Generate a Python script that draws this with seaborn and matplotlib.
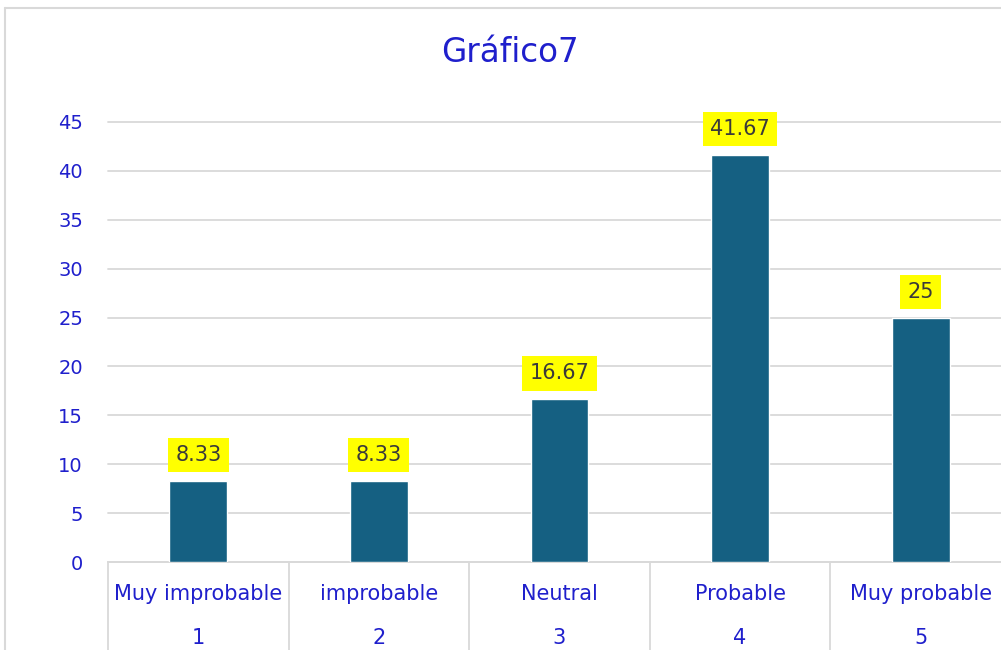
import matplotlib
matplotlib.use("Agg")
import matplotlib.pyplot as plt
from matplotlib.lines import Line2D
import matplotlib.transforms as mtransforms
import seaborn as sns
import pandas as pd

categories = ["Muy improbable", "improbable", "Neutral", "Probable", "Muy probable"]
codes = ["1", "2", "3", "4", "5"]
values = [8.33, 8.33, 16.67, 41.67, 25]
labels = ["8.33", "8.33", "16.67", "41.67", "25"]
yticks = [0, 5, 10, 15, 20, 25, 30, 35, 40, 45]
title = "Gráfico7"

BLUE = "#1f1fcc"
BAR = "#156082"
GRID = "#d9d9d9"

sns.set_theme(style="white")
plt.rcParams["font.family"] = ["DejaVu Sans"]

df = pd.DataFrame({"cat": categories, "val": values})

fig = plt.figure(figsize=(10.01, 6.5), dpi=100)
ax = fig.add_axes([108 / 1001, 88 / 650, 903 / 1001, 440 / 650])

sns.barplot(data=df, x="cat", y="val", color=BAR, saturation=1, width=0.32, ax=ax, zorder=3)

ax.set_xlim(-0.5, 4.5)
ax.set_ylim(0, 45)
ax.set_yticks(yticks)
ax.set_yticklabels([str(t) for t in yticks], color=BLUE, fontsize=14)
ax.tick_params(axis="y", length=0, pad=18)
ax.set_xticks(range(len(categories)))
ax.set_xticklabels([])
ax.tick_params(axis="x", length=0)
ax.set_xlabel("")
ax.set_ylabel("")
ax.grid(axis="y", color=GRID, linewidth=1.3, zorder=0)
for gl in ax.get_ygridlines():
    gl.set_clip_on(False)
ax.set_axisbelow(True)
for s in ["top", "right", "left"]:
    ax.spines[s].set_visible(False)
ax.spines["bottom"].set_color(GRID)
ax.spines["bottom"].set_linewidth(1.3)

trans = mtransforms.blended_transform_factory(ax.transData, ax.transAxes)
for i in range(len(categories) + 1):
    ax.add_line(Line2D([i - 0.5, i - 0.5], [0, -0.25], transform=trans,
                       color=GRID, linewidth=1.3, clip_on=False))

for i, (c, n) in enumerate(zip(categories, codes)):
    ax.annotate(c, xy=(i, 0), xycoords=trans, xytext=(0, -23), textcoords="offset points",
                ha="center", va="center", color=BLUE, fontsize=15, annotation_clip=False)
    ax.annotate(n, xy=(i, 0), xycoords=trans, xytext=(0, -55), textcoords="offset points",
                ha="center", va="center", color=BLUE, fontsize=15, annotation_clip=False)

for i, (v, lab) in enumerate(zip(values, labels)):
    ax.annotate(lab, xy=(i, v), xytext=(0, 18.5), textcoords="offset points",
                ha="center", va="center", color="#3a3a3a", fontsize=15,
                bbox=dict(boxstyle="square,pad=0.35", fc="#ffff00", ec="none"), zorder=5)

fig.text(510 / 1001, 1 - 52 / 650, title, ha="center", va="center", color=BLUE, fontsize=23.5)

fig.add_artist(Line2D([5 / 1001, 5 / 1001], [0, 1 - 8 / 650], transform=fig.transFigure,
                      color=GRID, linewidth=1.5))
fig.add_artist(Line2D([5 / 1001, 1], [1 - 8 / 650, 1 - 8 / 650], transform=fig.transFigure,
                      color=GRID, linewidth=1.5))

fig.savefig("out.png", dpi=100, facecolor="white")
